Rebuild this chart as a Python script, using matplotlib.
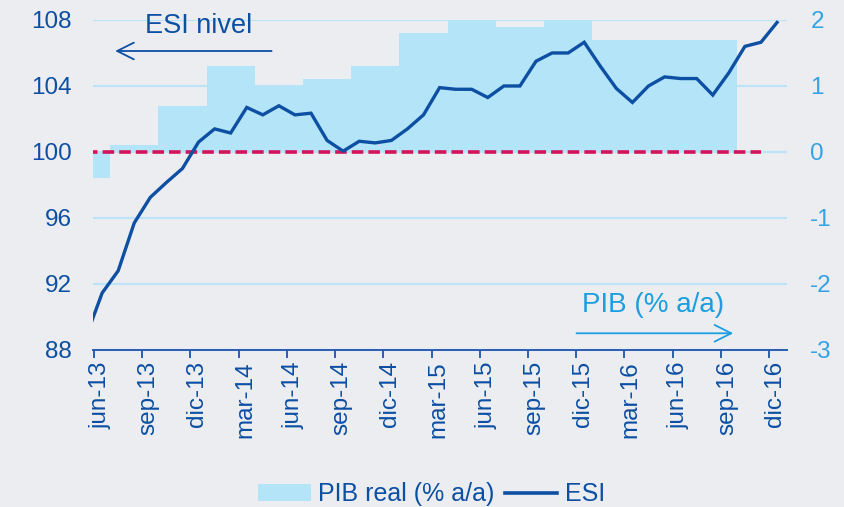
import numpy as np
import matplotlib
matplotlib.use("Agg")
import matplotlib.pyplot as plt
from matplotlib.patches import Patch
from matplotlib.lines import Line2D

plt.rcParams["font.family"] = ["Liberation Sans", "DejaVu Sans"]
plt.rcParams["axes.unicode_minus"] = False

# ESI, monthly from may-13 (index -1) to dic-16 (index 42)
esi = [88.8, 91.45, 92.8, 95.7, 97.25, 98.15, 99.0, 100.6, 101.4, 101.15,
       102.7, 102.25, 102.8, 102.25, 102.35, 100.7, 100.05, 100.65, 100.55, 100.7,
       101.4, 102.25, 103.9, 103.8, 103.8, 103.3, 104.0, 104.0, 105.5, 106.0,
       106.0, 106.65, 105.2, 103.85, 103.0, 104.0, 104.55, 104.45, 104.45, 103.45,
       104.8, 106.4, 106.65, 107.85]

# PIB real (% a/a), quarterly
quarters = ["2T13", "3T13", "4T13", "1T14", "2T14", "3T14", "4T14",
            "1T15", "2T15", "3T15", "4T15", "1T16", "2T16", "3T16"]
pib = [-0.4, 0.1, 0.7, 1.3, 1.0, 1.1, 1.3, 1.8, 2.0, 1.9, 2.0, 1.7, 1.7, 1.7]

tick_labels = ["jun-13", "sep-13", "dic-13", "mar-14", "jun-14", "sep-14", "dic-14",
               "mar-15", "jun-15", "sep-15", "dic-15", "mar-16", "jun-16", "sep-16", "dic-16"]

bg = "#ecedf0"
dark = "#0c4fa3"
light_txt = "#33a3e6"
bar_col = "#b4e4f8"
grid_col = "#bde4f6"

fig = plt.figure(figsize=(8.45, 5.07), dpi=100, facecolor=bg)
ax2 = fig.add_axes([0.110, 0.3097, 0.821, 0.6509])  # PIB axis (behind)
ax = ax2.twinx()
ax2.yaxis.tick_right()
ax.yaxis.tick_left()
ax.set_zorder(2)
ax2.set_zorder(1)
ax.patch.set_visible(False)
ax2.set_facecolor(bg)

# quarterly bars: each quarter covers three months, centred on the middle month
months_esi = np.arange(-1, len(esi) - 1)
q_centers = -1 + 3 * np.arange(len(quarters))
ax2.bar(q_centers, pib, width=3, color=bar_col, linewidth=0, zorder=2)
ax2.set_ylim(-3, 2)
ax2.set_yticks(np.arange(-3, 3))
ax2.grid(axis="y", color=grid_col, linewidth=1.6, zorder=0)
ax2.set_axisbelow(True)

ax.plot([months_esi[0], 41], [100, 100], color="#d4145a", lw=2.6,
        linestyle=(0, (3.2, 1.4)), zorder=2)
ax.plot(months_esi, esi, color=dark, lw=2.4, zorder=3, solid_joinstyle="miter")
ax.set_ylim(88, 108)
ax.set_yticks(np.arange(88, 109, 4))

# tick marks at month boundaries, labels drawn slightly to the right of them
xt = -0.5 + 3 * np.arange(len(tick_labels))
ax2.set_xticks(xt)
ax2.set_xticklabels([])
ax2.set_xticks(xt + 0.4, minor=True)
ax2.set_xticklabels(tick_labels, minor=True, rotation=90, fontsize=17.5, color=dark)
ax2.set_xlim(-0.57, 42.6)

for a in (ax, ax2):
    for s in ("left", "right", "top"):
        a.spines[s].set_visible(False)
ax.spines["bottom"].set_visible(False)
ax2.spines["bottom"].set_color("#2a5db0")
ax2.spines["bottom"].set_linewidth(1.4)
ax2.tick_params(axis="x", which="major", direction="out", length=6, width=1.4,
                color="#2a5db0")
ax2.tick_params(axis="x", which="minor", length=0, pad=8)
ax2.tick_params(axis="y", length=0, pad=17, labelsize=17.5, labelcolor=light_txt)
ax.tick_params(axis="y", length=0, pad=15, labelsize=17.5, labelcolor=dark)
for lab in ax2.get_yticklabels():
    lab.set_horizontalalignment("left")

# annotations
ax.text(0.153, 0.9606, "ESI nivel", transform=ax.transAxes, ha="center",
        va="baseline", fontsize=19.5, color=dark)
ax.annotate("", xy=(0.032, 0.906), xytext=(0.2575, 0.906), xycoords="axes fraction",
            arrowprops=dict(arrowstyle="->,head_length=0.6,head_width=0.3",
                            mutation_scale=20, lw=1.3, color=dark,
                            shrinkA=0, shrinkB=0))
ax.text(0.807, 0.116, "PIB (% a/a)", transform=ax.transAxes, ha="center",
        va="baseline", fontsize=20, color="#1c9ee0")
ax.annotate("", xy=(0.923, 0.0506), xytext=(0.697, 0.0506), xycoords="axes fraction",
            arrowprops=dict(arrowstyle="->,head_length=0.6,head_width=0.3",
                            mutation_scale=20, lw=1.3, color="#1c9ee0",
                            shrinkA=0, shrinkB=0))

handles = [Patch(facecolor=bar_col, edgecolor="none"),
           Line2D([0], [0], color=dark, lw=2.6)]
fig.legend(handles, ["PIB real (% a/a)", "ESI"], loc="lower center",
           bbox_to_anchor=(0.511, -0.043), ncol=2, frameon=False, fontsize=18,
           labelcolor=dark, handlelength=2.1, handletextpad=0.3, columnspacing=0.4)

fig.savefig("out.png", dpi=100, facecolor=bg)
